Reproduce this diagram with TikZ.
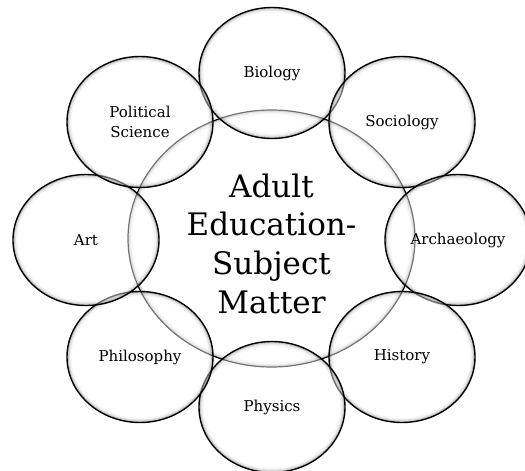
\documentclass[tikz,border=0pt]{standalone}
\usepackage{fontspec}
\setmainfont{DejaVu Serif}
\usepackage{tikz}
\usetikzlibrary{shapes.geometric}

% soft grey rim drawn inside an ellipse of radii #1 and #2
\newcommand{\rimglow}[2]{%
	\foreach \w/\o in {9/0.04,6/0.07,3.5/0.12}
		\draw[line width=\w pt,draw opacity=\o] (path picture bounding box.center) ellipse [x radius=#1,y radius=#2];}

\begin{document}
\begin{tikzpicture}[x=1pt,y=-1pt,
	hub/.style={ellipse,draw=black,line width=1.2pt,fill=white,minimum width=287pt,minimum height=257pt,inner sep=0pt,
		path picture={\rimglow{143.5pt}{128.5pt}}},
	subject/.style={ellipse,draw,line width=1.4pt,fill=white,fill opacity=0.45,text opacity=1,minimum width=146pt,minimum height=131pt,inner sep=0pt,align=center,font=\fontsize{15}{20}\selectfont,
		path picture={\rimglow{73pt}{65.5pt}}}]
	\useasboundingbox (0,0) rectangle (525,471);

	\node (hub) [hub] at (271.5,238.5) {};

	\draw
		(272,73)  node(bio)  [subject] {Biology}
		(402,122) node(soc)  [subject] {Sociology}
		(458,240) node(arch) [subject] {Archaeology}
		(402,357) node(hist) [subject] {History}
		(272,407) node(phys) [subject] {Physics}
		(140,357) node(phil) [subject] {Philosophy}
		(86,240)  node(art)  [subject] {Art}
		(140,122) node(pol)  [subject] {Political\\Science};

	\node (title) [align=center,font=\fontsize{31}{38.7}\selectfont] at (271.5,243.5) {Adult\\Education-\\Subject\\Matter};
\end{tikzpicture}
\end{document}
